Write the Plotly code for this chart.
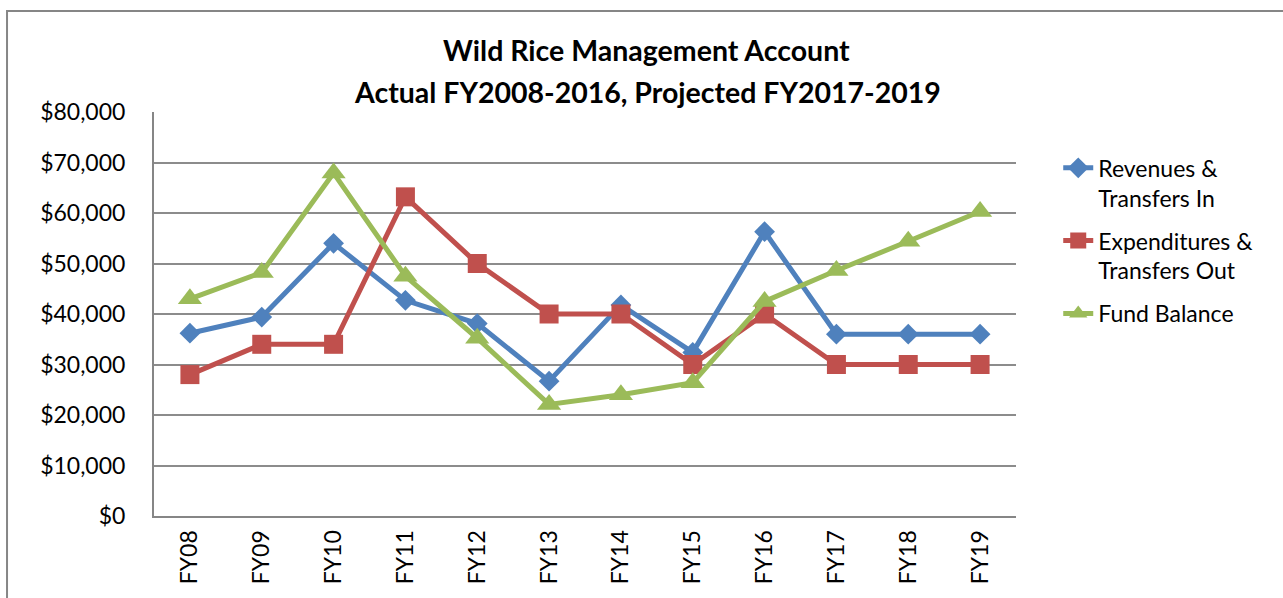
import plotly.graph_objects as go

categories = ["FY08", "FY09", "FY10", "FY11", "FY12", "FY13", "FY14", "FY15", "FY16", "FY17", "FY18", "FY19"]
revenues = [36200, 39400, 54000, 42700, 38100, 26700, 41800, 32400, 56300, 36000, 36000, 36000]
expenditures = [28000, 34000, 34000, 63200, 50000, 40000, 40000, 30000, 40000, 30000, 30000, 30000]
fund_balance = [43000, 48200, 67900, 47500, 35200, 22100, 24000, 26400, 42500, 48600, 54400, 60300]
y_ticks = [0, 10000, 20000, 30000, 40000, 50000, 60000, 70000, 80000]
y_tick_labels = ["$0", "$10,000", "$20,000", "$30,000", "$40,000", "$50,000", "$60,000", "$70,000", "$80,000"]
title_lines = ["Wild Rice Management Account", "Actual FY2008-2016, Projected FY2017-2019"]

FONT = "Lato, 'Open Sans', sans-serif"

fig = go.Figure()
fig.add_trace(go.Scatter(
    x=categories, y=revenues, name="Revenues &<br>Transfers In", mode="lines+markers",
    legendgroup="rev",
    line=dict(color="#4F81BD", width=5),
    marker=dict(symbol="diamond", size=16, color="#4F81BD"),
))
fig.add_trace(go.Scatter(
    x=categories, y=expenditures, name="Expenditures &<br>Transfers Out", mode="lines+markers",
    legendgroup="exp",
    line=dict(color="#C0504D", width=5),
    marker=dict(symbol="square", size=19, color="#C0504D"),
))
fig.add_trace(go.Scatter(
    x=categories, y=fund_balance, name="Fund Balance", mode="lines+markers",
    legendgroup="fund",
    line=dict(color="#9BBB59", width=5),
    marker=dict(symbol="triangle-up", size=21, color="#9BBB59"),
))

fig.update_layout(
    width=1283, height=598,
    margin=dict(l=154, r=267, t=112, b=82),
    paper_bgcolor="white", plot_bgcolor="white",
    font=dict(family=FONT, size=23, color="black"),
    showlegend=True,
    legend=dict(
        x=1.049, xanchor="left", y=0.915, yanchor="top",
        valign="top", font=dict(family=FONT, size=23, color="black"),
        bgcolor="rgba(0,0,0,0)", tracegroupgap=10,
    ),
    xaxis=dict(
        type="category", tickangle=-90, showgrid=False,
        showline=True, linecolor="#868686", linewidth=2,
        ticks="", ticklabelstandoff=3,
        tickfont=dict(family=FONT, size=23, color="black"),
        range=[-0.5, 11.5],
    ),
    yaxis=dict(
        range=[0, 80000], tickvals=y_ticks, ticktext=y_tick_labels,
        showgrid=True, gridcolor="#8C8C8C", gridwidth=2,
        showline=True, linecolor="#868686", linewidth=2,
        zeroline=False, ticks="", ticklen=0, ticklabelstandoff=22,
        tickfont=dict(family=FONT, size=23, color="black"),
    ),
    annotations=[
        dict(text="<b>" + title_lines[0] + "</b>", xref="paper", yref="paper",
             x=0.571, y=(516 - 50) / 404, xanchor="center", yanchor="middle",
             showarrow=False, font=dict(family=FONT, size=28.5, color="black")),
        dict(text="<b>" + title_lines[1] + "</b>", xref="paper", yref="paper",
             x=0.572, y=(516 - 92) / 404, xanchor="center", yanchor="middle",
             showarrow=False, font=dict(family=FONT, size=28.5, color="black")),
    ],
    shapes=[dict(
        type="rect", xref="paper", yref="paper",
        x0=-0.1705, x1=1.33, y0=-0.3, y1=1.25,
        line=dict(color="#868686", width=2), fillcolor="rgba(0,0,0,0)",
        layer="below",
    )],
)

fig.write_html("out.html", config={"displayModeBar": False},
               post_script="document.body.style.margin='0';document.body.style.padding='0';")
